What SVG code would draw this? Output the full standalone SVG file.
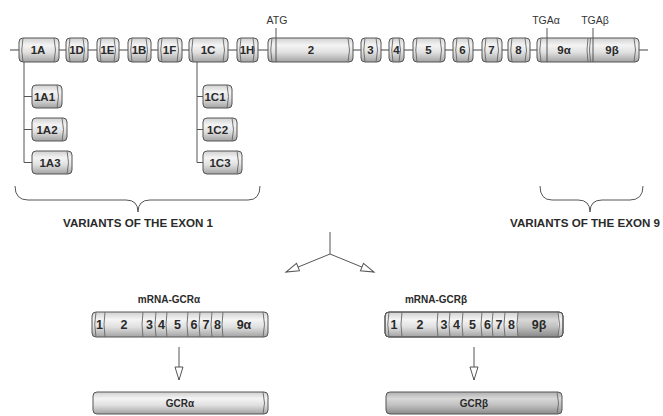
<svg xmlns="http://www.w3.org/2000/svg" width="663" height="416" viewBox="0 0 663 416">
<defs>
<linearGradient id="g" x1="0" y1="0" x2="0" y2="1">
<stop offset="0" stop-color="#d0d0d0"/><stop offset="0.3" stop-color="#f4f4f4"/><stop offset="0.6" stop-color="#e0e0e0"/><stop offset="1" stop-color="#a2a2a2"/>
</linearGradient>
<linearGradient id="gd" x1="0" y1="0" x2="0" y2="1">
<stop offset="0" stop-color="#b0b0b0"/><stop offset="0.3" stop-color="#d8d8d8"/><stop offset="0.6" stop-color="#c0c0c0"/><stop offset="1" stop-color="#8a8a8a"/>
</linearGradient>
<marker id="ah" markerUnits="userSpaceOnUse" markerWidth="16" markerHeight="12" refX="14" refY="5" orient="auto" viewBox="0 0 16 12">
<path d="M1,1 L14,5 L1,9 z" fill="#fff" stroke="#555" stroke-width="1"/>
</marker>
<style>
.ex{fill:url(#g);stroke:#555;stroke-width:1}
.exd{fill:url(#gd);stroke:#555;stroke-width:1}
.cap{fill:none;stroke:#666;stroke-width:0.9}
.ln{fill:none;stroke:#444;stroke-width:1.2}
.thin{fill:none;stroke:#555;stroke-width:1}
.lb{font-family:"Liberation Sans",Arial,sans-serif;font-weight:bold;font-size:11.5px;fill:#2a2a2a;text-anchor:middle}
.mb{font-family:"Liberation Sans",Arial,sans-serif;font-weight:bold;font-size:12.5px;fill:#2a2a2a;text-anchor:middle}
.sm{font-family:"Liberation Sans",Arial,sans-serif;font-size:10.5px;fill:#333;text-anchor:middle}
.hd{font-family:"Liberation Sans",Arial,sans-serif;font-weight:bold;font-size:10px;fill:#2a2a2a;text-anchor:middle}
</style>
</defs>

<g id="connectors">
<line class="ln" x1="10" y1="50" x2="648" y2="50"/>
<path class="thin" d="M24,62 V162.5 H32 M24,96.5 H32 M24,129.5 H32"/>
<path class="thin" d="M197,62 V162.5 H203 M197,96.5 H203 M197,129.5 H203"/>
<path class="thin" d="M15,186 Q15,200 28,200 H126 Q138,200 138,212 Q138,200 150,200 H248 Q260,200 260,186"/>
<path class="thin" d="M540,186 Q540,200 552,200 H578 Q590,200 590,212 Q590,200 602,200 H630 Q643,200 643,186"/>
<path class="thin" d="M330,232 V254 L286,272" marker-end="url(#ah)"/>
<path class="thin" d="M330,254 L374,272" marker-end="url(#ah)"/>
<line class="thin" x1="179" y1="347" x2="179" y2="380" marker-end="url(#ah)"/>
<line class="thin" x1="474" y1="347" x2="474" y2="380" marker-end="url(#ah)"/>
</g>

<g id="exon-1A"><rect class="ex" x="19" y="38" width="40" height="24" rx="4"/><path class="cap" d="M23,38 Q20.5,50 23,62 M54,38 Q57,50 54,62"/><text class="lb" x="38" y="54">1A</text></g>
<g id="exon-1D"><rect class="ex" x="66" y="38" width="22" height="24" rx="4"/><path class="cap" d="M70,38 Q67.5,50 70,62 M83,38 Q86,50 83,62"/><text class="lb" x="76.5" y="54">1D</text></g>
<g id="exon-1E"><rect class="ex" x="97" y="38" width="22" height="24" rx="4"/><path class="cap" d="M101,38 Q98.5,50 101,62 M114,38 Q117,50 114,62"/><text class="lb" x="107.5" y="54">1E</text></g>
<g id="exon-1B"><rect class="ex" x="128" y="38" width="23" height="24" rx="4"/><path class="cap" d="M132,38 Q129.5,50 132,62 M146,38 Q149,50 146,62"/><text class="lb" x="139" y="54">1B</text></g>
<g id="exon-1F"><rect class="ex" x="158" y="38" width="24" height="24" rx="4"/><path class="cap" d="M162,38 Q159.5,50 162,62 M177,38 Q180,50 177,62"/><text class="lb" x="169.5" y="54">1F</text></g>
<g id="exon-1C"><rect class="ex" x="189" y="38" width="39" height="24" rx="4"/><path class="cap" d="M193,38 Q190.5,50 193,62 M223,38 Q226,50 223,62"/><text class="lb" x="208" y="54">1C</text></g>
<g id="exon-1H"><rect class="ex" x="237" y="38" width="21" height="24" rx="4"/><path class="cap" d="M241,38 Q238.5,50 241,62 M253,38 Q256,50 253,62"/><text class="lb" x="247" y="54">1H</text></g>
<g id="exon-2"><rect class="ex" x="268" y="38" width="85" height="24" rx="4"/><path class="cap" d="M272,38 Q269.5,50 272,62 M348,38 Q351,50 348,62"/><line class="thin" x1="276" y1="28" x2="276" y2="62"/><text class="lb" x="311" y="54">2</text><text class="sm" x="277" y="24">ATG</text></g>
<g id="exon-3"><rect class="ex" x="361" y="38" width="20" height="24" rx="4"/><path class="cap" d="M365,38 Q362.5,50 365,62 M376,38 Q379,50 376,62"/><text class="lb" x="370.5" y="54">3</text></g>
<g id="exon-4"><rect class="ex" x="389" y="38" width="15" height="24" rx="4"/><path class="cap" d="M393,38 Q390.5,50 393,62 M399,38 Q402,50 399,62"/><text class="lb" x="396.5" y="54">4</text></g>
<g id="exon-5"><rect class="ex" x="413" y="38" width="32" height="24" rx="4"/><path class="cap" d="M417,38 Q414.5,50 417,62 M440,38 Q443,50 440,62"/><text class="lb" x="428.5" y="54">5</text></g>
<g id="exon-6"><rect class="ex" x="453" y="38" width="20" height="24" rx="4"/><path class="cap" d="M457,38 Q454.5,50 457,62 M468,38 Q471,50 468,62"/><text class="lb" x="462.5" y="54">6</text></g>
<g id="exon-7"><rect class="ex" x="482" y="38" width="20" height="24" rx="4"/><path class="cap" d="M486,38 Q483.5,50 486,62 M497,38 Q500,50 497,62"/><text class="lb" x="491.5" y="54">7</text></g>
<g id="exon-8"><rect class="ex" x="508" y="38" width="22" height="24" rx="4"/><path class="cap" d="M512,38 Q509.5,50 512,62 M525,38 Q528,50 525,62"/><text class="lb" x="518.5" y="54">8</text></g>
<g id="exon-9"><rect class="ex" x="537" y="38" width="102" height="24" rx="4"/><path class="cap" d="M541,38 Q538.5,50 541,62 M634,38 Q637,50 634,62 M588,38 Q586,50 588,62 M590.5,38 Q588.5,50 590.5,62"/><line class="thin" x1="547" y1="28" x2="547" y2="62"/><line class="thin" x1="593" y1="28" x2="593" y2="62"/><text class="lb" x="564" y="54">9α</text><text class="lb" x="612" y="54">9β</text><text class="sm" x="546" y="24">TGAα</text><text class="sm" x="595" y="24">TGAβ</text></g>

<g id="exon-1A1"><rect class="ex" x="32" y="85" width="30" height="23" rx="4"/><path class="cap" d="M57,85 Q60,96.5 57,108"/><text class="lb" x="44.5" y="100.5">1A1</text></g>
<g id="exon-1A2"><rect class="ex" x="32" y="118" width="35" height="23" rx="4"/><path class="cap" d="M62,118 Q65,129.5 62,141"/><text class="lb" x="47" y="133.5">1A2</text></g>
<g id="exon-1A3"><rect class="ex" x="32" y="151" width="40" height="23" rx="4"/><path class="cap" d="M67,151 Q70,162.5 67,174"/><text class="lb" x="50" y="166.5">1A3</text></g>
<g id="exon-1C1"><rect class="ex" x="203" y="85" width="29" height="23" rx="4"/><path class="cap" d="M227,85 Q230,96.5 227,108"/><text class="lb" x="215" y="100.5">1C1</text></g>
<g id="exon-1C2"><rect class="ex" x="203" y="118" width="34" height="23" rx="4"/><path class="cap" d="M232,118 Q235,129.5 232,141"/><text class="lb" x="217.5" y="133.5">1C2</text></g>
<g id="exon-1C3"><rect class="ex" x="203" y="151" width="39" height="23" rx="4"/><path class="cap" d="M237,151 Q240,162.5 237,174"/><text class="lb" x="220" y="166.5">1C3</text></g>

<g id="label-exon1"><text class="hd" x="138" y="227" textLength="150" lengthAdjust="spacingAndGlyphs">VARIANTS OF THE EXON 1</text></g>
<g id="label-exon9"><text class="hd" x="585" y="227" textLength="150" lengthAdjust="spacingAndGlyphs">VARIANTS OF THE EXON 9</text></g>

<g id="mrna-alpha">
<text class="hd" x="169" y="303">mRNA-GCRα</text>
<rect class="ex" x="92" y="312" width="176" height="25" rx="4"/>
<path class="cap" d="M96,312 Q93.5,324.5 96,337 M263,312 Q266,324.5 263,337 M105,312 Q103,324.5 105,337 M143,312 Q141,324.5 143,337 M156,312 Q154,324.5 156,337 M167,312 Q165,324.5 167,337 M188,312 Q186,324.5 188,337 M200,312 Q198,324.5 200,337 M212,312 Q210,324.5 212,337 M223,312 Q221,324.5 223,337"/>
<text class="mb" x="99.5" y="329">1</text><text class="mb" x="124" y="329">2</text><text class="mb" x="149.5" y="329">3</text><text class="mb" x="161.5" y="329">4</text><text class="mb" x="177.5" y="329">5</text><text class="mb" x="194" y="329">6</text><text class="mb" x="206" y="329">7</text><text class="mb" x="217.5" y="329">8</text><text class="mb" x="244" y="329">9α</text>
</g>

<g id="mrna-beta">
<text class="hd" x="436" y="303">mRNA-GCRβ</text>
<rect class="ex" x="385" y="312" width="178" height="25" rx="4"/>
<rect x="518" y="312.5" width="40" height="24" fill="url(#gd)"/>
<rect x="385" y="312" width="178" height="25" rx="4" fill="none" stroke="#555"/>
<path class="cap" d="M389,312 Q386.5,324.5 389,337 M558,312 Q561,324.5 558,337 M402,312 Q400,324.5 402,337 M438,312 Q436,324.5 438,337 M450,312 Q448,324.5 450,337 M463,312 Q461,324.5 463,337 M482,312 Q480,324.5 482,337 M493,312 Q491,324.5 493,337 M505,312 Q503,324.5 505,337 M518,312 Q516,324.5 518,337"/>
<text class="mb" x="394" y="329">1</text><text class="mb" x="420" y="329">2</text><text class="mb" x="444" y="329">3</text><text class="mb" x="456.5" y="329">4</text><text class="mb" x="472.5" y="329">5</text><text class="mb" x="487.5" y="329">6</text><text class="mb" x="499" y="329">7</text><text class="mb" x="511.5" y="329">8</text><text class="mb" x="539" y="329">9β</text>
</g>

<g id="protein-alpha"><rect class="ex" x="93" y="392" width="175" height="22" rx="4"/><path class="cap" d="M263,392 Q266,403 263,414"/><text class="hd" x="180" y="407">GCRα</text></g>
<g id="protein-beta"><rect class="exd" x="386" y="392" width="176" height="22" rx="4"/><path class="cap" d="M557,392 Q560,403 557,414"/><text class="hd" x="474" y="407">GCRβ</text></g>
</svg>
